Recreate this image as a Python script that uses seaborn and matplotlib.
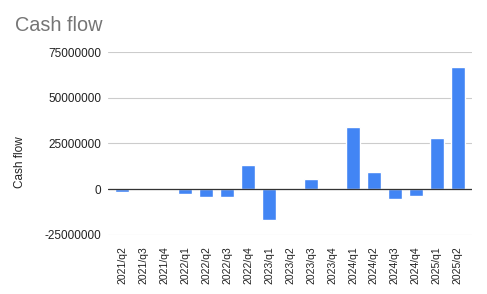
import pandas as pd
import matplotlib
matplotlib.use("Agg")
import matplotlib.pyplot as plt
import seaborn as sns

# quarterly cash flow values
quarters = ["2021/q2", "2021/q3", "2021/q4", "2022/q1", "2022/q2", "2022/q3",
            "2022/q4", "2023/q1", "2023/q2", "2023/q3", "2023/q4", "2024/q1",
            "2024/q2", "2024/q3", "2024/q4", "2025/q1", "2025/q2"]
cash_flow = [-1700000, 0, 0, -2900000, -4000000, -4000000,
             13100000, -16600000, 0, 5500000, 300000, 33900000,
             9300000, -5100000, -3500000, 27900000, 66800000]
y_ticks = [-25000000, 0, 25000000, 50000000, 75000000]

df = pd.DataFrame({"quarter": quarters, "cash_flow": cash_flow})

sns.set_style("white")
plt.rcParams["font.family"] = ["Liberation Sans", "DejaVu Sans"]

fig = plt.figure(figsize=(4.87, 2.94), dpi=100)
ax = fig.add_axes([0.222, 0.201, 0.747, 0.622])

sns.barplot(data=df, x="quarter", y="cash_flow", color="#4285F4",
            width=0.67, ax=ax, saturation=1)

ax.set_ylim(-25000000, 75000000)
ax.set_yticks(y_ticks)
ax.set_yticklabels([str(v) for v in y_ticks], fontsize=8.5, color="#222222")
ax.yaxis.grid(True, color="#cccccc", linewidth=0.8)
ax.set_axisbelow(True)
ax.axhline(0, color="#333333", linewidth=0.9)
ax.set_xlim(-0.67, len(quarters) - 0.33)

ax.tick_params(axis="x", labelrotation=90, labelsize=7.5, length=0, pad=8,
               labelcolor="#222222")
ax.tick_params(axis="y", length=0, pad=5)
ax.set_xlabel("")
ax.set_ylabel("")
sns.despine(ax=ax, left=True, bottom=True)

fig.text(20 / 487, 1 - 162 / 294, "Cash flow", fontsize=8.5, color="#222222",
         rotation=90, ha="center", va="center")
fig.text(0.031, 0.912, "Cash flow", fontsize=14.3, color="#757575", va="center")

fig.savefig("out.png", dpi=100)
